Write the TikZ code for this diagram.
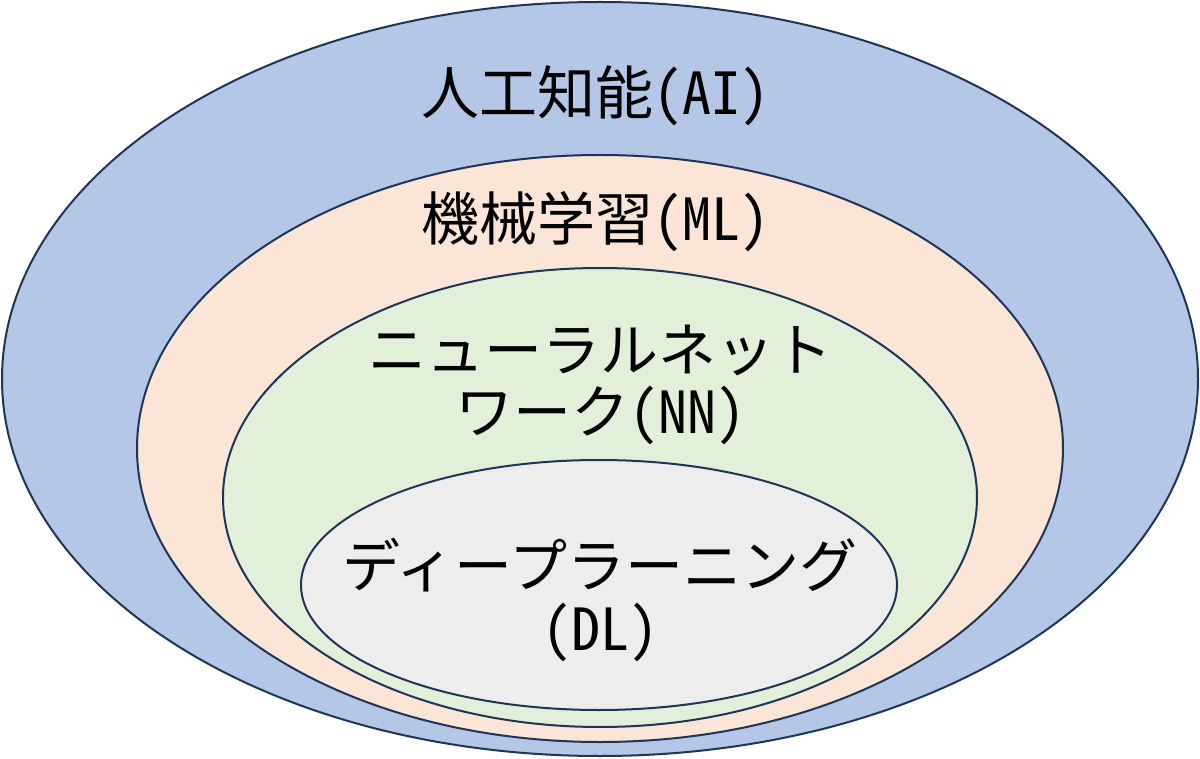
\documentclass[tikz,border=0pt]{standalone}
\usepackage{fontspec}
\newfontfamily\jp[RawFeature=+hwid]{Noto Sans CJK JP}
\usetikzlibrary{shapes.geometric}
\definecolor{aiFill}{HTML}{B4C7E7}
\definecolor{mlFill}{HTML}{FBE5D6}
\definecolor{nnFill}{HTML}{E2F0D9}
\definecolor{dlFill}{HTML}{EDEDED}
\definecolor{edge}{HTML}{1F3557}
\tikzset{
  setbox/.style={ellipse, draw=edge, line width=1pt, inner sep=0pt},
  lbl/.style={inner sep=0pt, font=\jp\fontsize{29pt}{34pt}\selectfont, text=black}
}
\begin{document}
\begin{tikzpicture}[x=0.5pt, y=-0.5pt]
\useasboundingbox (0,0) rectangle (1200,759);
\node[setbox, fill=aiFill, minimum width=598pt, minimum height=377pt] (ai) at (600,379) {};
\node[setbox, fill=mlFill, minimum width=463pt, minimum height=293.5pt] (ml) at (600,448.5) {};
\node[setbox, fill=nnFill, minimum width=377pt, minimum height=229.5pt] (nn) at (600,497.5) {};
\node[setbox, fill=dlFill, minimum width=298pt, minimum height=125pt] (dl) at (599,585) {};
\node[lbl] (tai) at (595,96) {人工知能(AI)};
\node[lbl] (tml) at (595,222) {機械学習(ML)};
\node[lbl] (tnn1) at (600,350) {ニューラルネット};
\node[lbl] (tnn2) at (600,415) {ワーク(NN)};
\node[lbl] (tdl1) at (600,565) {ディープラーニング};
\node[lbl] (tdl2) at (600,632) {(DL)};
\end{tikzpicture}
\end{document}
